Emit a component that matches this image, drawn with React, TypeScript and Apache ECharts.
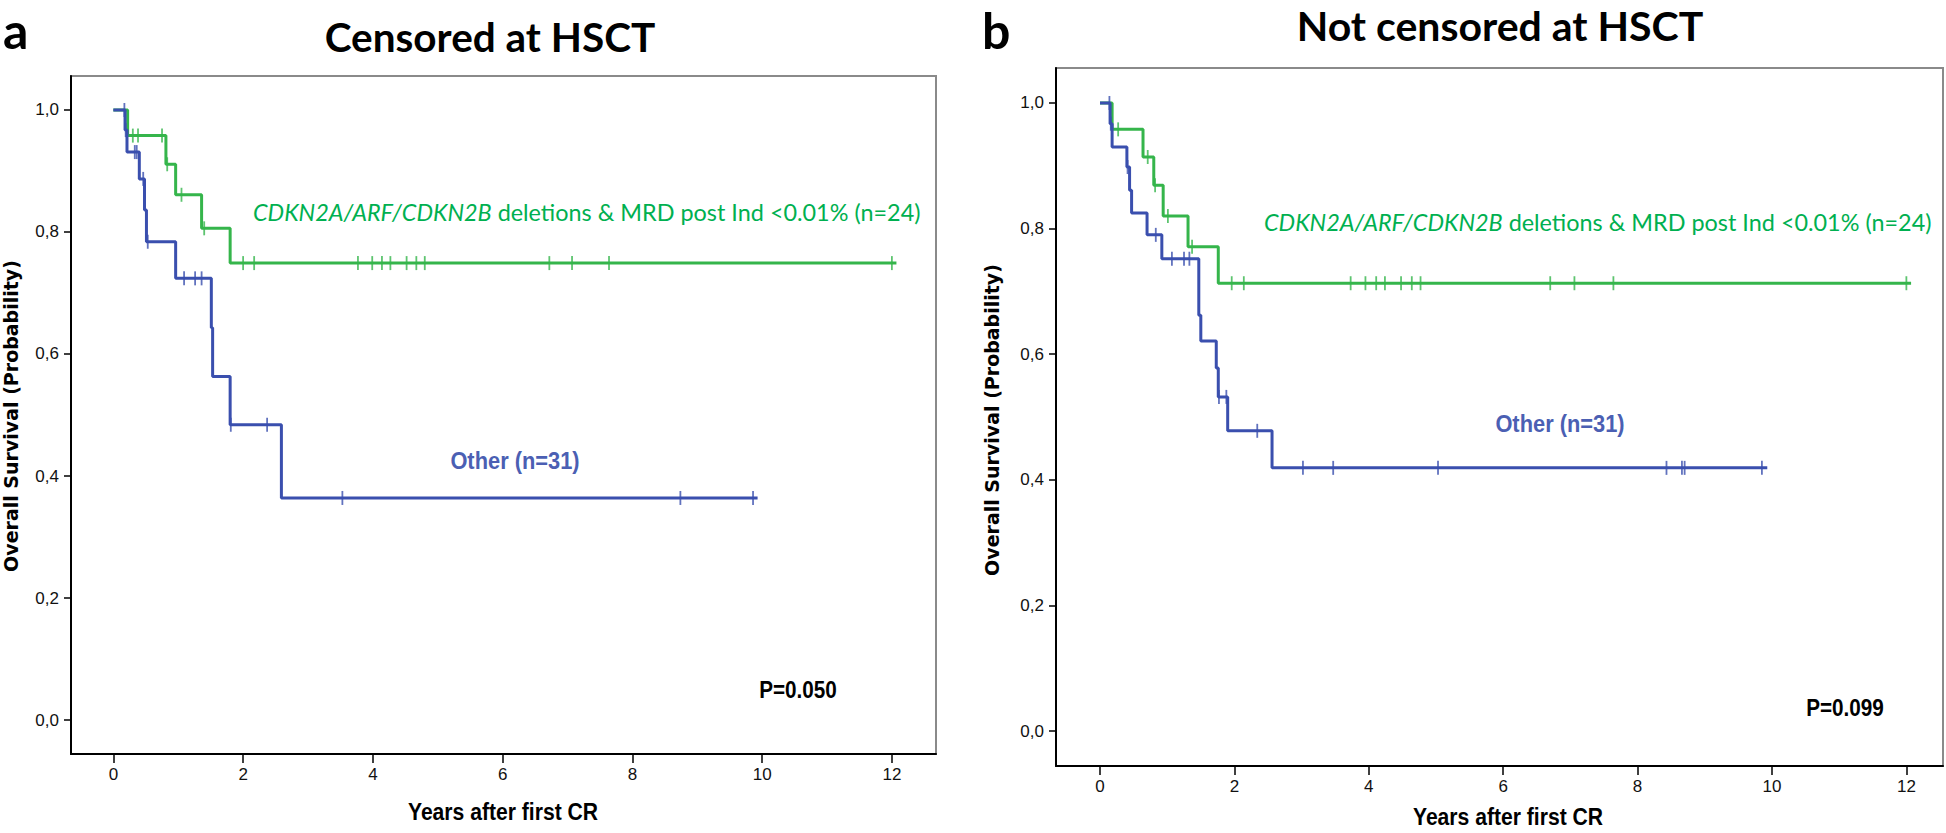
import React, { useEffect, useRef } from "react";
import * as echarts from "echarts";

// ---------- data ----------
// Panel a: Censored at HSCT
const gA_times = [0, 0.22, 0.81, 0.96, 1.36, 1.8];
const gA_surv = [1.0, 0.958, 0.911, 0.861, 0.806, 0.749];
const gA_end = 12.07;
const gA_censor = [0.3, 0.38, 0.75, 0.83, 1.05, 1.4, 2.0, 2.17, 3.77, 3.99, 4.14, 4.27, 4.52, 4.67, 4.8, 6.72, 7.07, 7.64, 12.0];

const bA_times = [0, 0.18, 0.21, 0.4, 0.48, 0.51, 0.96, 1.51, 1.53, 1.8, 2.59];
const bA_surv = [1.0, 0.967, 0.931, 0.887, 0.836, 0.784, 0.724, 0.643, 0.563, 0.484, 0.364];
const bA_end = 9.93;
const bA_censor = [0.17, 0.19, 0.33, 0.36, 0.46, 0.53, 1.09, 1.26, 1.36, 1.81, 2.37, 3.53, 8.74, 9.86];

// Panel b: Not censored at HSCT
const gB_times = [0, 0.18, 0.64, 0.8, 0.94, 1.31, 1.76];
const gB_surv = [1.0, 0.958, 0.914, 0.869, 0.82, 0.771, 0.713];
const gB_end = 12.07;
const gB_censor = [0.27, 0.71, 0.82, 1.01, 1.37, 1.96, 2.14, 3.73, 3.95, 4.11, 4.24, 4.48, 4.64, 4.77, 6.7, 7.06, 7.64, 12.0];

const bB_times = [0, 0.15, 0.18, 0.4, 0.44, 0.47, 0.7, 0.92, 1.47, 1.5, 1.73, 1.76, 1.9, 2.56];
const bB_surv = [1.0, 0.967, 0.93, 0.898, 0.861, 0.825, 0.79, 0.752, 0.662, 0.621, 0.578, 0.532, 0.478, 0.419];
const bB_end = 9.93;
const bB_censor = [0.14, 0.16, 0.41, 0.83, 1.07, 1.25, 1.33, 1.77, 1.88, 2.34, 3.02, 3.47, 5.03, 8.43, 8.66, 8.7, 9.85];

const X_TICKS = [0, 2, 4, 6, 8, 10, 12];
const Y_TICKS = [0, 0.2, 0.4, 0.6, 0.8, 1.0];

const TITLE_A = "Censored at HSCT";
const TITLE_B = "Not censored at HSCT";
const GREEN_LABEL_ITALIC = "CDKN2A/ARF/CDKN2B";
const GREEN_LABEL_REST = " deletions & MRD post Ind <0.01% (n=24)";
const BLUE_LABEL = "Other (n=31)";
const P_A = "P=0.050";
const P_B = "P=0.099";
const X_TITLE = "Years after first CR";
const Y_TITLE = "Overall Survival (Probability)";

// ---------- styling ----------
const GREEN = "#35b54b";
const BLUE = "#3a4fae";
const GREEN_TXT = "#00b050";
const BLUE_TXT = "#4b5fb3";
const ARIAL = "'Liberation Sans',Arial,sans-serif";
const HUMAN = "Lato,'Open Sans',sans-serif";
const WIDE = "'DejaVu Sans',Verdana,sans-serif";

function stepData(times: number[], surv: number[], end: number) {
  const d = times.map((t, i) => [t, surv[i]]);
  d.push([end, surv[surv.length - 1]]);
  return d;
}
function levelAt(times: number[], surv: number[], t: number) {
  let v = surv[0];
  for (let i = 0; i < times.length; i++) if (times[i] <= t) v = surv[i];
  return v;
}
function censorData(times: number[], surv: number[], cens: number[]) {
  return cens.map((t) => [t, levelAt(times, surv, t)]);
}

export default function App() {
  const ref = useRef<HTMLDivElement>(null);
  useEffect(() => {
    if (!ref.current) return;
    const chart = echarts.init(ref.current, undefined, { renderer: "svg" });

    const grids = [
      { left: 71, top: 76, width: 865, height: 678 },
      { left: 1056, top: 68, width: 887, height: 698 },
    ];
    const xr = [
      [-0.653, 12.68],
      [-0.655, 12.545],
    ];
    const xAxes = [0, 1].map((g) => ({
      type: "value",
      gridIndex: g,
      min: xr[g][0],
      max: xr[g][1],
      axisLine: { onZero: false, lineStyle: { color: "#000", width: 2 } },
      axisTick: { show: true, customValues: X_TICKS, length: 9, lineStyle: { color: "#000", width: 1.5 } },
      axisLabel: {
        customValues: X_TICKS,
        fontSize: 17,
        color: "#111",
        margin: 12,
        fontFamily: ARIAL,
      },
      splitLine: { show: false },
    }));
    const yAxes = [0, 1].map((g) => ({
      type: "value",
      gridIndex: g,
      min: -0.0557,
      max: 1.0557,
      axisLine: { onZero: false, lineStyle: { color: "#000", width: 2 } },
      axisTick: { show: true, customValues: Y_TICKS, length: 7, lineStyle: { color: "#000", width: 1.5 } },
      axisLabel: {
        customValues: Y_TICKS,
        fontSize: 17,
        color: "#111",
        margin: 12,
        fontFamily: ARIAL,
        formatter: (v: number) => v.toFixed(1).replace(".", ","),
      },
      splitLine: { show: false },
    }));

    const line = (g: number, data: number[][], color: string) => ({
      type: "line",
      xAxisIndex: g,
      yAxisIndex: g,
      step: "end",
      data,
      symbol: "none",
      lineStyle: { color, width: 3 },
      z: 3,
    });
    const marks = (g: number, data: number[][], color: string) => ({
      type: "scatter",
      xAxisIndex: g,
      yAxisIndex: g,
      data,
      symbol: "rect",
      symbolSize: [1.8, 14],
      itemStyle: { color },
      z: 4,
    });

    const richLabel = (x: number, y: number, size: number) => ({
      type: "text",
      x,
      y,
      style: {
        text: `{i|${GREEN_LABEL_ITALIC}}{r|${GREEN_LABEL_REST}}`,
        fill: GREEN_TXT,
        fontSize: size,
        fontFamily: HUMAN,
        textAlign: "left",
        textVerticalAlign: "middle",
        rich: {
          i: { fontStyle: "italic", fontSize: size, fontFamily: HUMAN, fill: GREEN_TXT, color: GREEN_TXT },
          r: { fontSize: size, fontFamily: HUMAN, fill: GREEN_TXT, color: GREEN_TXT },
        },
      },
      z: 10,
    });
    const txt = (text: string, x: number, y: number, o: any) => ({
      type: "text",
      x,
      y,
      rotation: o.rotation || 0,
      scaleX: o.sx || 1,
      style: {
        text,
        fill: o.color || "#000",
        fontSize: o.size,
        fontWeight: o.weight || "normal",
        fontFamily: o.family || ARIAL,
        textAlign: o.align || "center",
        textVerticalAlign: "middle",
      },
      z: 10,
    });

    chart.setOption({
      animation: false,
      backgroundColor: "#fff",
      grid: grids.map((g) => ({ ...g, show: true, borderColor: "#8a8a8a", borderWidth: 2, backgroundColor: "transparent" })),
      xAxis: xAxes,
      yAxis: yAxes,
      series: [
        line(0, stepData(gA_times, gA_surv, gA_end), GREEN),
        line(0, stepData(bA_times, bA_surv, bA_end), BLUE),
        marks(0, censorData(gA_times, gA_surv, gA_censor), GREEN),
        marks(0, censorData(bA_times, bA_surv, bA_censor), BLUE),
        line(1, stepData(gB_times, gB_surv, gB_end), GREEN),
        line(1, stepData(bB_times, bB_surv, bB_end), BLUE),
        marks(1, censorData(gB_times, gB_surv, gB_censor), GREEN),
        marks(1, censorData(bB_times, bB_surv, bB_censor), BLUE),
      ],
      graphic: [
        txt("a", 3, 30, { size: 50, weight: "bold", family: HUMAN, align: "left" }),
        txt("b", 982, 30, { size: 50, weight: "bold", family: HUMAN, align: "left" }),
        txt(TITLE_A, 490, 36, { size: 40.5, weight: "bold", family: HUMAN }),
        txt(TITLE_B, 1500, 25, { size: 41, weight: "bold", family: HUMAN }),
        richLabel(253, 212, 23.4),
        richLabel(1264, 222, 23.4),
        txt(BLUE_LABEL, 515, 461, { size: 23, weight: "bold", color: BLUE_TXT, sx: 0.95 }),
        txt(BLUE_LABEL, 1560, 424, { size: 23, weight: "bold", color: BLUE_TXT, sx: 0.95 }),
        txt(P_A, 798, 690, { size: 23, weight: "bold", sx: 0.9 }),
        txt(P_B, 1845, 708, { size: 23, weight: "bold", sx: 0.9 }),
        txt(X_TITLE, 503, 812, { size: 24, weight: "bold", sx: 0.88 }),
        txt(X_TITLE, 1508, 817, { size: 24, weight: "bold", sx: 0.88 }),
        txt(Y_TITLE, 11, 416, { size: 19, weight: "bold", family: WIDE, rotation: Math.PI / 2 }),
        txt(Y_TITLE, 992, 420, { size: 19, weight: "bold", family: WIDE, rotation: Math.PI / 2 }),
      ],
    });
    return () => chart.dispose();
  }, []);
  return (
    <div
      ref={ref}
      style={{ position: "absolute", left: 0, top: 0, width: 1946, height: 833, background: "#fff" }}
    />
  );
}
